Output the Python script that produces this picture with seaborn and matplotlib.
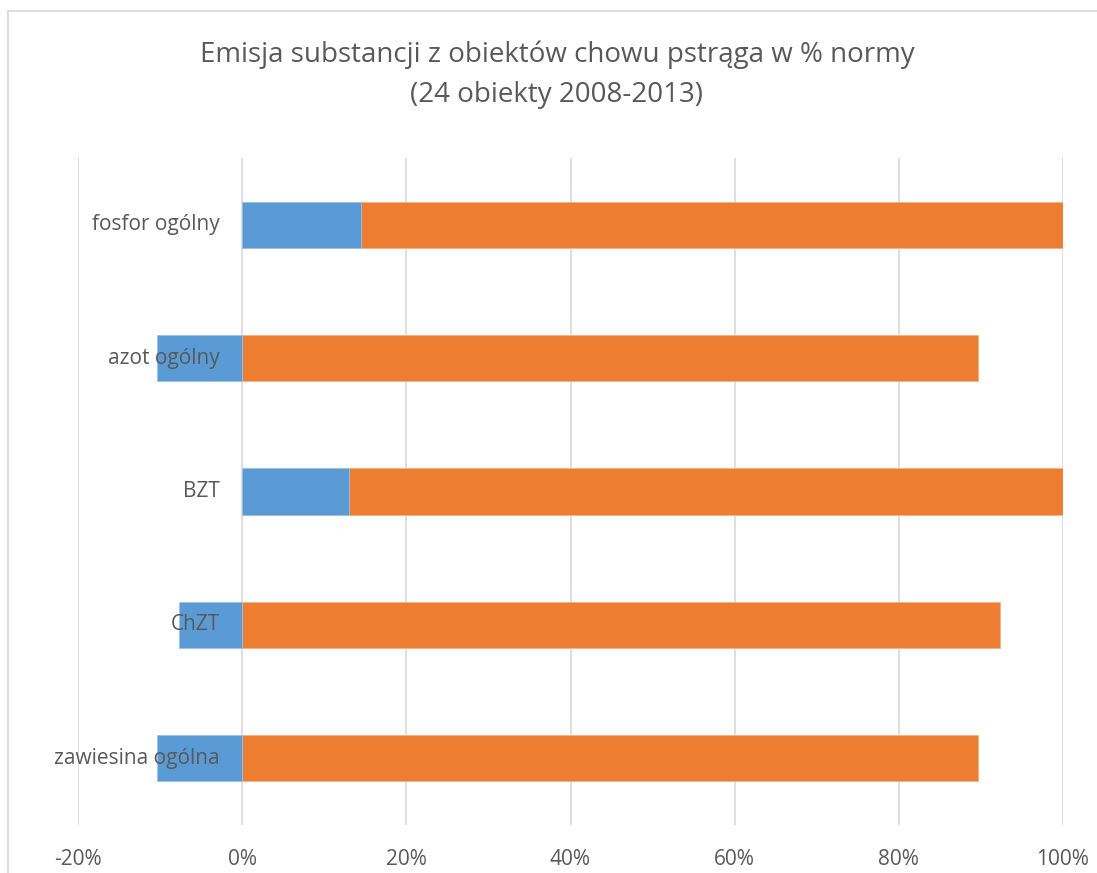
import matplotlib
matplotlib.use("Agg")
import matplotlib.pyplot as plt
import seaborn as sns
import pandas as pd
import numpy as np
from matplotlib.lines import Line2D

categories = ["fosfor ogólny", "azot ogólny", "BZT", "ChZT", "zawiesina ogólna"]
blue_vals = [14.5, -10.4, 13.0, -7.7, -10.4]
orange_vals = [85.5, 89.6, 87.0, 92.3, 89.6]
xticks = [-20, 0, 20, 40, 60, 80, 100]
xticklabels = ["-20%", "0%", "20%", "40%", "60%", "80%", "100%"]

BLUE = "#5b9bd5"
ORANGE = "#ed7d31"
TEXT = "#595959"
GRID = "#d9d9d9"

sns.set_theme(style="white")
plt.rcParams["font.family"] = ["Open Sans", "DejaVu Sans"]

df = pd.DataFrame({"cat": categories, "blue": blue_vals, "orange": orange_vals})
df["orange_end"] = df["blue"].clip(lower=0) + df["orange"]

fig = plt.figure(figsize=(10.97, 8.73), dpi=100)
ax = fig.add_axes([78/1097, 48/873, (1063-78)/1097, (825-158)/873])

sns.barplot(data=df, y="cat", x="orange_end", orient="h", color=ORANGE,
            saturation=1, width=0.345, ax=ax, edgecolor="#f4b183", linewidth=0.6, zorder=3)
sns.barplot(data=df, y="cat", x="blue", orient="h", color=BLUE,
            saturation=1, width=0.345, ax=ax, edgecolor="#9dc3e6", linewidth=0.6, zorder=4)

ax.set_xlim(-20, 100)
ax.set_ylim(4.5, -0.5)
ax.set_xticks(xticks)
ax.set_xticklabels(xticklabels, color=TEXT, fontsize=15)
ax.tick_params(axis="x", length=0, pad=17)
ax.set_yticks([])
ax.set_xlabel("")
ax.set_ylabel("")
for s in ax.spines.values():
    s.set_visible(False)
ax.xaxis.grid(True, color=GRID, linewidth=1.2, zorder=0)
ax.set_axisbelow(True)

for i, c in enumerate(categories):
    ax.text(-2.7, i, c, ha="right", va="center", color=TEXT, fontsize=15, zorder=10)

fig.text(557/1097, 1 - 55/873, "Emisja substancji z obiektów chowu pstrąga w % normy",
         ha="center", va="center", color=TEXT, fontsize=20)
fig.text(557/1097, 1 - 95/873, "(24 obiekty 2008-2013)",
         ha="center", va="center", color=TEXT, fontsize=20)

# chart area border (left and top visible)
fig.add_artist(Line2D([8/1097, 8/1097], [0, 1 - 11/873], transform=fig.transFigure,
                      color=GRID, linewidth=1.3))
fig.add_artist(Line2D([8/1097, 1], [1 - 11/873, 1 - 11/873], transform=fig.transFigure,
                      color=GRID, linewidth=1.3))

fig.savefig("out.png", dpi=100, facecolor="white")
